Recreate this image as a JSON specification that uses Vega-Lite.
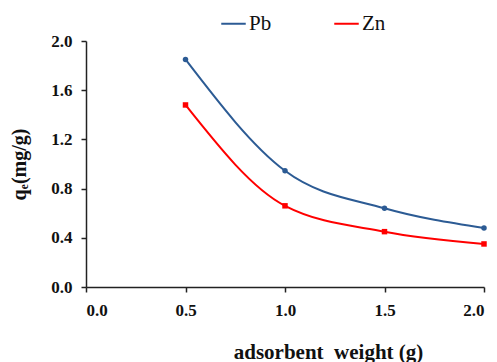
{
  "$schema": "https://vega.github.io/schema/vega-lite/v6.json",
  "autosize": {"type": "none"},
  "width": 398,
  "height": 246,
  "padding": {"left": 86, "top": 41, "right": 13, "bottom": 75},
  "background": "white",
  "config": {"view": {"stroke": null}, "font": "Liberation Serif",
    "legend": {"labelFont": "Liberation Serif, Times New Roman, serif", "labelFontSize": 21, "labelColor": "#111"}},
  "data": {"values": [
    {"w": 0.5, "q": 1.85, "metal": "Pb"},
    {"w": 1.0, "q": 0.945, "metal": "Pb"},
    {"w": 1.5, "q": 0.64, "metal": "Pb"},
    {"w": 2.0, "q": 0.48, "metal": "Pb"},
    {"w": 0.5, "q": 1.48, "metal": "Zn"},
    {"w": 1.0, "q": 0.66, "metal": "Zn"},
    {"w": 1.5, "q": 0.45, "metal": "Zn"},
    {"w": 2.0, "q": 0.35, "metal": "Zn"}
  ]},
  "encoding": {
    "x": {"field": "w", "type": "quantitative",
      "scale": {"domain": [0, 2], "nice": false},
      "axis": {"values": [0, 0.5, 1, 1.5, 2], "format": ".1f", "grid": false,
        "domainColor": "#222", "domainWidth": 1.5, "tickColor": "#222", "tickWidth": 1.5, "tickSize": 5,
        "labelFont": "Liberation Serif", "labelFontSize": 17, "labelFontWeight": "bold", "labelColor": "#111", "labelPadding": 10,
        "title": "adsorbent\u00a0 weight (g)", "titleFont": "Liberation Serif", "titleFontSize": 21, "titleFontWeight": "bold", "titleColor": "#111",
        "titleX": 242, "titleY": 71, "titleBaseline": "alphabetic"}},
    "y": {"field": "q", "type": "quantitative",
      "scale": {"domain": [0, 2], "nice": false},
      "axis": {"values": [0, 0.4, 0.8, 1.2, 1.6, 2.0], "format": ".1f", "grid": false,
        "domainColor": "#222", "domainWidth": 1.5, "tickColor": "#222", "tickWidth": 1.5, "tickSize": 5,
        "labelFont": "Liberation Serif", "labelFontSize": 17, "labelFontWeight": "bold", "labelColor": "#111", "labelPadding": 9,
        "title": "qₑ(mg/g)", "titleFont": "Liberation Serif", "titleFontSize": 20, "titleFontWeight": "bold", "titleColor": "#111", "titlePadding": 21}}
  },
  "layer": [
    {"mark": {"type": "line", "interpolate": "monotone", "strokeWidth": 2},
      "encoding": {"color": {"field": "metal", "type": "nominal",
        "scale": {"domain": ["Pb", "Zn"], "range": ["#2C5B94", "#FF0000"]},
        "legend": {"title": null, "orient": "none", "legendX": 134, "legendY": -31, "direction": "horizontal",
          "symbolType": "stroke", "symbolStrokeWidth": 2, "symbolSize": 600, "columnPadding": 58,
          "labelFont": "Liberation Serif, Times New Roman, serif", "labelFontSize": 21, "labelColor": "#111", "labelOffset": 2}}}},
    {"transform": [{"filter": "datum.metal == 'Pb'"}],
      "mark": {"type": "point", "shape": "circle", "filled": true, "size": 30, "opacity": 1, "color": "#2C5B94"}},
    {"transform": [{"filter": "datum.metal == 'Zn'"}],
      "mark": {"type": "point", "shape": "square", "filled": true, "size": 30, "opacity": 1, "color": "#FF0000"}}
  ]
}
